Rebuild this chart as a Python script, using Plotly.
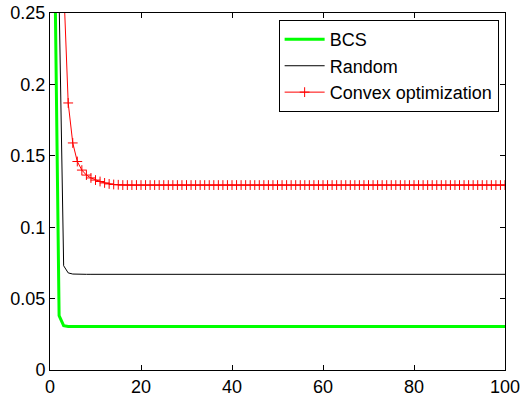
import plotly.graph_objects as go

iterations = list(range(1, 101))

bcs_head = [0.30, 0.038, 0.031]
bcs_flat = 0.0304
bcs = bcs_head + [bcs_flat] * (100 - len(bcs_head))

random_head = [0.90, 0.26, 0.073, 0.068, 0.0672]
random_flat = 0.0670
random_vals = random_head + [random_flat] * (100 - len(random_head))

convex_head = [0.60, 0.40, 0.27, 0.187, 0.159, 0.146, 0.140, 0.1365, 0.1345,
               0.133, 0.132, 0.131, 0.1303, 0.1299, 0.1297]
convex_flat = 0.1295
convex = convex_head + [convex_flat] * (100 - len(convex_head))

x_ticks = [0, 20, 40, 60, 80, 100]
y_ticks = [0, 0.05, 0.1, 0.15, 0.2, 0.25]
y_tick_labels = ["0", "0.05", "0.1", "0.15", "0.2", "0.25"]

FONT = "Liberation Sans, Arial, sans-serif"

fig = go.Figure()
fig.add_trace(go.Scatter(x=iterations, y=bcs, mode="lines", name="BCS",
                         line=dict(color="#00ff00", width=3)))
fig.add_trace(go.Scatter(x=iterations, y=random_vals, mode="lines", name="Random",
                         line=dict(color="black", width=1)))
fig.add_trace(go.Scatter(x=iterations, y=convex, mode="lines+markers",
                         name="Convex optimization",
                         line=dict(color="red", width=1),
                         marker=dict(symbol="cross-thin", size=7,
                                     line=dict(color="red", width=1), color="red")))

axis_common = dict(showgrid=False, zeroline=False, showline=True, linecolor="black",
                   linewidth=1, mirror="ticks", ticks="inside", ticklen=5,
                   tickcolor="black", tickwidth=1, automargin=False,
                   tickfont=dict(family=FONT, size=18, color="black"))

fig.update_xaxes(range=[0, 100], tickvals=x_ticks, **axis_common)
fig.update_yaxes(range=[0, 0.25], tickvals=y_ticks, ticktext=y_tick_labels,
                 **axis_common)

fig.update_layout(
    width=522, height=401,
    margin=dict(l=50, r=17, t=13, b=31, autoexpand=False),
    paper_bgcolor="white", plot_bgcolor="white",
    showlegend=True,
    legend=dict(x=0.986, y=0.98, xanchor="right", yanchor="top",
                bgcolor="white", bordercolor="black", borderwidth=1,
                font=dict(family=FONT, size=18, color="black"),
                tracegroupgap=0, itemwidth=40),
)

fig.write_html("out.html")
